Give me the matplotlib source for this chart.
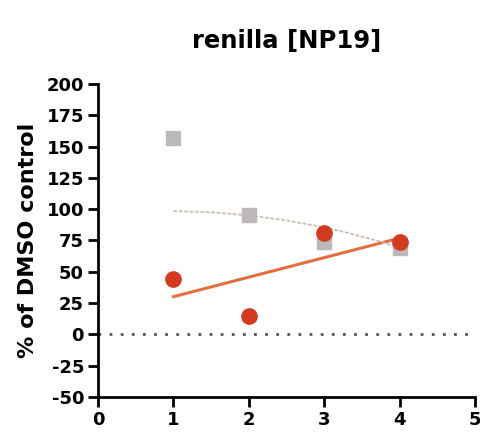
import matplotlib
matplotlib.use("Agg")
import matplotlib.pyplot as plt
import numpy as np

plt.rcParams['font.family'] = ['DejaVu Sans']
plt.rcParams['font.weight'] = 'bold'
plt.rcParams['axes.unicode_minus'] = False

# data
conc = [1, 2, 3, 4]
grey_vals = [157, 95, 74, 69]
red_vals = [44, 15, 81, 74]

# fitted curve for grey series
grey_fit_x = [1.0, 1.5, 2.0, 2.5, 3.0, 3.25, 3.5, 3.75, 4.0]
grey_fit_y = [98.5, 97.5, 95, 91, 85.5, 82, 78, 74, 69]

xticks = [0, 1, 2, 3, 4, 5]
yticks = [-50, -25, 0, 25, 50, 75, 100, 125, 150, 175, 200]

fig = plt.figure(figsize=(4.8, 4.37), dpi=100)
ax = fig.add_axes([0.204, 0.0915, 0.786, 0.7165])

# zero reference line
ax.plot([0, 5], [0, 0], linestyle=(0, (1, 3)), color='#555555', linewidth=2)

# linear fit for red series
slope, icpt = np.polyfit(conc, red_vals, 1)
lx = np.array([conc[0], conc[-1]])
ax.plot(lx, slope * lx + icpt, color='#e0703f', linewidth=2.2)

ax.plot(grey_fit_x, grey_fit_y, linestyle=(0, (2, 1)), color='#cbbcae', linewidth=1.3)

ax.plot(conc, grey_vals, 's', color='#bdb9b9', markersize=10, zorder=3)
ax.plot(conc, red_vals, 'o', color='#d23a22', markersize=11, zorder=4)

ax.set_xlim(0, 5)
ax.set_ylim(-50, 200)
ax.set_xticks(xticks)
ax.set_yticks(yticks)
ax.tick_params(width=2, length=7, labelsize=13, pad=3)

for s in ['top', 'right']:
    ax.spines[s].set_visible(False)
for s in ['left', 'bottom']:
    ax.spines[s].set_linewidth(2)

ax.set_ylabel('% of DMSO control', fontsize=16, fontweight='bold', labelpad=6)
ax.set_title('renilla [NP19]', fontsize=17.5, fontweight='bold', pad=26)

fig.savefig('out.png', dpi=100)
